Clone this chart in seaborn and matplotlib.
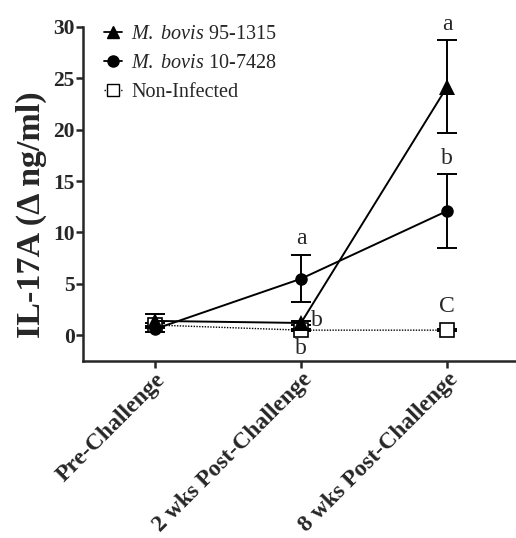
import matplotlib
matplotlib.use("Agg")
import matplotlib.pyplot as plt
import seaborn as sns
import pandas as pd
from matplotlib.lines import Line2D

# values
timepoints = ["Pre-Challenge", "2 wks Post-Challenge", "8 wks Post-Challenge"]
groups = ["M. bovis 95-1315", "M. bovis 10-7428", "Non-Infected"]

mb95_mean = [1.4, 1.2, 24.2]
mb95_err = [0.7, 0.2, 4.5]
mb10_mean = [0.6, 5.5, 12.1]
mb10_err = [0.3, 2.3, 3.6]
noninf_mean = [1.0, 0.5, 0.5]
noninf_err = [0.2, 0.1, 0.1]

mb95_letters = ["", "b", "a"]
mb10_letters = ["", "a", "b"]
noninf_letters = ["", "b", "C"]

sns.set_style("ticks")
plt.rcParams["font.family"] = ["Liberation Serif", "DejaVu Serif"]
plt.rcParams["mathtext.fontset"] = "custom"
plt.rcParams["mathtext.rm"] = "Liberation Serif"
plt.rcParams["mathtext.it"] = "Liberation Serif:italic"

df = pd.DataFrame({
    "time": timepoints * 3,
    "pos": list(range(len(timepoints))) * 3,
    "value": mb95_mean + mb10_mean + noninf_mean,
    "group": [g for g in groups for _ in timepoints],
})

fig = plt.figure(figsize=(5.16, 5.38), dpi=100)
ax = fig.add_axes([0.161, 0.329, 0.839, 0.621])

# non-infected first so the filled markers sit on top
sns.lineplot(
    data=df[df.group == groups[2]], x="pos", y="value", color="black",
    marker="s", markersize=10, markerfacecolor="white", markeredgecolor="black",
    markeredgewidth=1.2, linestyle=(0, (1, 1)), linewidth=1.0, ax=ax, zorder=3,
)
sns.lineplot(
    data=df[df.group == groups[1]], x="pos", y="value", color="black",
    marker="o", markersize=9, markeredgewidth=0, linewidth=1.4, ax=ax, zorder=4,
)
sns.lineplot(
    data=df[df.group == groups[0]], x="pos", y="value", color="black",
    marker="^", markersize=11, markeredgewidth=0, linewidth=1.4, ax=ax, zorder=5,
)

x = list(range(len(timepoints)))
for means, errs in [(mb95_mean, mb95_err), (mb10_mean, mb10_err), (noninf_mean, noninf_err)]:
    ax.errorbar(x, means, yerr=errs, fmt="none", ecolor="black",
                elinewidth=1.4, capsize=7, capthick=1.4, zorder=2)

# significance letters
lfs = 17
ax.text(2, mb95_mean[2] + mb95_err[2] + 0.5, mb95_letters[2], ha="center", va="bottom", fontsize=lfs)
ax.text(2, mb10_mean[2] + mb10_err[2] + 0.5, mb10_letters[2], ha="center", va="bottom", fontsize=lfs)
ax.text(1, mb10_mean[1] + mb10_err[1] + 0.6, mb10_letters[1], ha="center", va="bottom", fontsize=lfs)
ax.text(1.07, mb95_mean[1] + 0.2, mb95_letters[1], ha="left", va="center", fontsize=lfs)
ax.text(1, noninf_mean[1] - 0.8, noninf_letters[1], ha="center", va="top", fontsize=lfs)
ax.text(2, noninf_mean[2] + 1.3, noninf_letters[2], ha="center", va="bottom", fontsize=lfs)

# legend
handles = [
    Line2D([], [], color="black", marker="^", markersize=9, linewidth=1.3),
    Line2D([], [], color="black", marker="o", markersize=8, linewidth=1.3),
    Line2D([], [], color="black", marker="s", markersize=8, linewidth=1.0,
           linestyle=(0, (1, 1)), markerfacecolor="white"),
]
labels = [r"$\mathit{M.\ bovis}$ 95-1315", r"$\mathit{M.\ bovis}$ 10-7428", "Non-Infected"]
ax.legend(handles, labels, loc="upper left", bbox_to_anchor=(0.007, 1.06), frameon=False,
          fontsize=14.5, handlelength=0.9, handletextpad=0.45, labelspacing=0.5)

ax.set_xlim(-0.49, 2.47)
ax.set_ylim(-2.5, 30)
ax.set_yticks([0, 5, 10, 15, 20, 25, 30])
ax.set_xticks(x)
ax.set_xticklabels(timepoints, rotation=45, ha="right", rotation_mode="anchor",
                   fontsize=17, fontweight="bold")
for t in ax.get_yticklabels():
    t.set_fontweight("bold")
    t.set_fontsize(15.5)
ax.set_xlabel("")
ax.set_ylabel("IL-17A (Δ ng/ml)", fontsize=24.5, fontweight="bold")
ax.yaxis.set_label_coords(-0.083, 0.437)

sns.despine(ax=ax)
ax.spines["left"].set_linewidth(1.8)
ax.spines["bottom"].set_linewidth(1.8)
ax.tick_params(axis="both", width=1.8, length=5, direction="out", pad=1)

fig.savefig("out.png", dpi=100)
